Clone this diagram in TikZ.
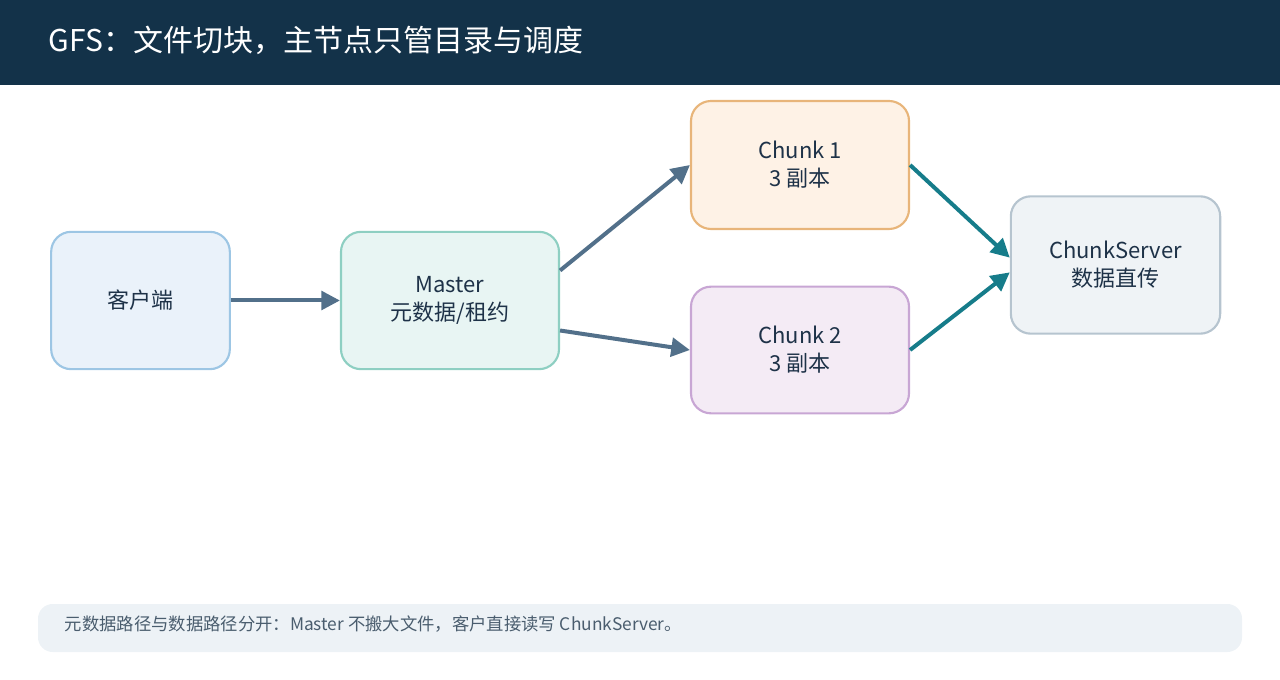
\documentclass[tikz,border=0pt]{standalone}
\usepackage{fontspec}
\setmainfont{Noto Sans CJK SC}
\usetikzlibrary{arrows.meta}
\definecolor{hdr}{HTML}{133249}
\definecolor{ink}{HTML}{1E3248}
\definecolor{ga}{HTML}{52708A}
\definecolor{ta}{HTML}{167C8A}
\definecolor{f1}{HTML}{EAF2FA}\definecolor{d1}{HTML}{9DC6E4}
\definecolor{f2}{HTML}{E8F5F3}\definecolor{d2}{HTML}{8ECFC2}
\definecolor{f3}{HTML}{FEF2E6}\definecolor{d3}{HTML}{E8B57A}
\definecolor{f4}{HTML}{F4EBF5}\definecolor{d4}{HTML}{C8A6D4}
\definecolor{f5}{HTML}{EFF3F6}\definecolor{d5}{HTML}{B6C4CF}
\definecolor{fb}{HTML}{EDF2F6}\definecolor{ft}{HTML}{4A5D6E}
\begin{document}
\begin{tikzpicture}[x=0.75pt,y=-0.75pt,
  box/.style={draw,line width=1.6pt,rounded corners=15pt,align=center,font=\fontsize{16.5}{21}\selectfont,text=ink,inner sep=0pt},
  ga/.style={draw=ga,line width=3pt,-{Triangle[length=14pt,width=14pt]}},
  ta/.style={draw=ta,line width=3pt,-{Triangle[length=14pt,width=14pt]}}]
\useasboundingbox (0,0) rectangle (1280,680);
\fill[hdr] (0,0) rectangle (1280,85);
\node[anchor=west,text=white,font=\fontsize{22.5}{26}\selectfont] (title) at (44,40) {GFS：文件切块，主节点只管目录与调度};
\node[box,fill=f1,draw=d1,minimum width=134pt,minimum height=103pt] (client) at (140.5,300.5) {客户端};
\node[box,fill=f2,draw=d2,minimum width=163.5pt,minimum height=103pt] (master) at (450,300.5) {Master\\元数据/租约};
\node[box,fill=f3,draw=d3,minimum width=163.5pt,minimum height=96pt] (c1) at (800,165) {Chunk 1\\3 副本};
\node[box,fill=f4,draw=d4,minimum width=163.5pt,minimum height=95pt] (c2) at (800,350) {Chunk 2\\3 副本};
\node[box,fill=f5,draw=d5,minimum width=157pt,minimum height=103pt] (cs) at (1115.5,265) {ChunkServer\\数据直传};
\draw[ga] (client.east) -- (master.west);
\draw[ga] ([yshift=22.5pt]master.east) -- (c1.west);
\draw[ga] ([yshift=-22.5pt]master.east) -- (c2.west);
\draw[ta] (c1.east) -- ([yshift=5.5pt]cs.west);
\draw[ta] (c2.east) -- ([yshift=-5.5pt]cs.west);
\fill[fb,rounded corners=11pt] (38,604) rectangle (1242,652);
\node[anchor=west,text=ft,font=\fontsize{13}{16}\selectfont] (foot) at (60,624) {元数据路径与数据路径分开：Master 不搬大文件，客户直接读写 ChunkServer。};
\end{tikzpicture}
\end{document}
